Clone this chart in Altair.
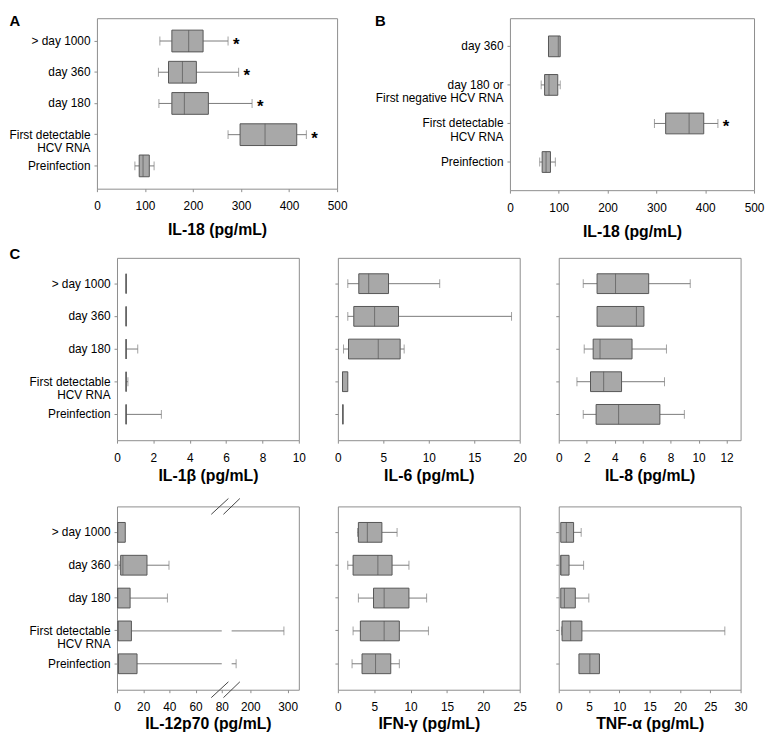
import altair as alt
import pandas as pd

FONT = "Liberation Sans"
BOX_FILL = "#a8a8a8"
BOX_STROKE = "#555555"
WHISK = "#7a7a7a"
FRAME = "#8c8c8c"

# category labels (top to bottom); "|" marks a line break
CATS_C = ["> day 1000", "day 360", "day 180", "First detectable|HCV RNA", "Preinfection"]
CATS_B = ["day 360", "day 180 or|First negative HCV RNA", "First detectable|HCV RNA", "Preinfection"]

# box statistics per category: (low whisker, Q1, median, Q3, high whisker); None = no whisker
IL18_A = [(131, 156, 191, 221, 273), (128, 149, 178, 207, 295), (129, 156, 182, 232, 323),
          (273, 298, 350, 416, 436), (79, 88, 96, 109, 119)]
IL18_A_SIG = [True, True, True, True, False]
IL18_B = [(None, 79, 99, 103, None), (64, 71, 80, 98, 103), (296, 319, 367, 397, 426),
          (61, 66, 74, 83, 93)]
IL18_B_SIG = [False, False, True, False]
IL1B = [(None, 0.5, 0.5, 0.5, None), (None, 0.5, 0.5, 0.5, None), (None, 0.5, 0.5, 0.5, 1.14),
        (None, 0.5, 0.5, 0.5, 0.6), (None, 0.5, 0.5, 0.5, 2.44)]
IL6 = [(1.09, 2.3, 3.39, 5.57, 11.2), (1.09, 1.75, 4.04, 6.67, 19.1), (0.62, 1.17, 4.44, 6.85, 7.29),
       (None, 0.51, 0.51, 1.09, None), (None, 0.55, 0.55, 0.55, None)]
IL8 = [(1.75, 2.74, 4.06, 6.43, 9.4), (None, 2.74, 5.55, 6.09, None), (1.82, 2.46, 2.95, 5.24, 7.7),
       (1.3, 2.27, 3.21, 4.49, 7.56), (1.75, 2.67, 4.28, 7.23, 8.98)]
IL12 = [(None, 0.5, 0.5, 6.3, None), (1.5, 2.8, 4.5, 22.9, 39.7), (None, 0.5, 0.5, 10, 38.5),
        (None, 0.75, 0.75, 11, 290), (None, 1, 1, 15.3, 162)]
IFNG = [(2.7, 2.82, 4.05, 6.05, 8.14), (1.36, 2.09, 5.5, 7.45, 9.77), (2.82, 4.9, 6.36, 9.77, 12.2),
        (2.09, 3.09, 6.36, 8.45, 12.45), (1.95, 3.32, 5.18, 7.27, 8.45)]
TNFA = [(None, 0.33, 1.25, 2.45, 3.7), (None, 0.33, 0.33, 1.7, 4.1), (None, 0.33, 0.93, 2.73, 4.96),
        (0.44, 0.55, 1.96, 3.82, 27.4), (None, 3.33, 5.13, 6.71, None)]

# axis ticks
TICKS_IL18 = [0, 100, 200, 300, 400, 500]
TICKS_IL1B = [0, 2, 4, 6, 8, 10]
TICKS_IL6 = [0, 5, 10, 15, 20]
TICKS_IL8 = [0, 2, 4, 6, 8, 10, 12]
TICKS_IL12 = [0, 20, 40, 60, 80, 200, 300]
TICKS_IFNG = [0, 5, 10, 15, 20, 25]
TICKS_TNFA = [0, 5, 10, 15, 20, 25, 30]

# broken IL-12p70 axis: domain pieces and the "//" break marks (data units)
IL12_DOMAIN = [0, 80, 150, 330]
IL12_BREAK = (80, 150)
BREAK_X1 = [72, 92]
BREAK_X2 = [127, 172]


def panel(stats, cats, xtitle, domain, ticks, width, height, box_h, sig=None,
          show_labels=True, letter=None, letter_pos=(0, 0), rng=None, brk=None,
          title_pad=4, pad_outer=0.25):
    box_rows, seg_rows, cap_rows, sig_rows = [], [], [], []
    for i, (c, (lo, q1, med, q3, hi)) in enumerate(zip(cats, stats)):
        box_rows.append({"cat": c, "q1": q1, "med": med, "q3": q3})
        for a, b, end in ((lo, q1, lo), (q3, hi, hi)):
            if end is None:
                continue
            pieces = [(a, b)]
            if brk and a < brk[0] and b > brk[1]:
                pieces = [(a, brk[0]), (brk[1], b)]
            for p in pieces:
                seg_rows.append({"cat": c, "a": p[0], "b": p[1]})
            cap_rows.append({"cat": c, "v": end})
        if sig and sig[i]:
            sig_rows.append({"cat": c, "v": hi})

    if rng is None:
        xs = alt.Scale(domain=domain, nice=False, zero=False)
    else:
        xs = alt.Scale(domain=domain, range=rng, nice=False, zero=False)
    xaxis = alt.Axis(values=ticks, title=xtitle, titlePadding=title_pad)

    def X(f):
        return alt.X(f"{f}:Q", scale=xs, axis=xaxis, title=xtitle)

    yargs = dict(labelExpr="split(datum.value, '|')")
    if not show_labels:
        yargs = dict(labels=False)
    if letter:
        yargs.update(title=letter, titleAngle=0, titleAlign="left", titleBaseline="top",
                     titleX=letter_pos[0], titleY=letter_pos[1], titleFontSize=15,
                     titleFontWeight="bold", titleFont=FONT, titleColor="black")
        ytitle = letter
    else:
        yargs.update(title=None)
        ytitle = None
    Y = alt.Y("cat:N", scale=alt.Scale(domain=cats, paddingInner=0, paddingOuter=pad_outer),
              axis=alt.Axis(**yargs), title=ytitle)

    layers = []
    if seg_rows:
        layers.append(alt.Chart(pd.DataFrame(seg_rows)).mark_rule(color=WHISK, strokeWidth=1)
                      .encode(x=X("a"), x2=alt.X2("b:Q"), y=Y))
        layers.append(alt.Chart(pd.DataFrame(cap_rows)).mark_tick(color=WHISK, size=9, thickness=1)
                      .encode(x=X("v"), y=Y))
    layers.append(alt.Chart(pd.DataFrame(box_rows))
                  .mark_bar(size=box_h, fill=BOX_FILL, stroke=BOX_STROKE, strokeWidth=1)
                  .encode(x=X("q1"), x2=alt.X2("q3:Q"), y=Y))
    layers.append(alt.Chart(pd.DataFrame(box_rows)).mark_tick(color=BOX_STROKE, size=box_h, thickness=1)
                  .encode(x=X("med"), y=Y))
    if sig_rows:
        layers.append(alt.Chart(pd.DataFrame(sig_rows))
                      .mark_text(text="*", fontSize=17, fontWeight="bold", align="left",
                                 baseline="middle", dx=5, dy=4, font=FONT, color="black")
                      .encode(x=X("v"), y=Y))
    if brk:
        sl = pd.DataFrame({"x1": BREAK_X1, "x2": BREAK_X2})
        for y1, y2 in ((8, -8), (height + 8, height - 8)):
            layers.append(alt.Chart(sl).mark_rule(color="#444444", strokeWidth=1)
                          .encode(x=X("x1"), x2=alt.X2("x2:Q"), y=alt.value(y1), y2=alt.value(y2)))

    return alt.layer(*layers).properties(width=width, height=height)


pA = panel(IL18_A, CATS_C, "IL-18 (pg/mL)", [0, 500], TICKS_IL18, 243, 172.5, 22,
           sig=IL18_A_SIG, letter="A", letter_pos=(-89, -5), title_pad=10, pad_outer=0.23)
pB = panel(IL18_B, CATS_B, "IL-18 (pg/mL)", [0, 500], TICKS_IL18, 247, 174, 21,
           sig=IL18_B_SIG, letter="B", letter_pos=(-137, -5), title_pad=10, pad_outer=0.23)
p1 = panel(IL1B, CATS_C, "IL-1β (pg/mL)", [0, 10], TICKS_IL1B, 184, 184.5, 20,
           letter="C", letter_pos=(-109.3, -11.5), pad_outer=0.29)
p6 = panel(IL6, CATS_C, "IL-6 (pg/mL)", [0, 20], TICKS_IL6, 184, 184.5, 20,
           show_labels=False, pad_outer=0.29)
p8 = panel(IL8, CATS_C, "IL-8 (pg/mL)", [0, 13], TICKS_IL8, 184, 184.5, 20,
           show_labels=False, pad_outer=0.29)
p12 = panel(IL12, CATS_C, "IL-12p70 (pg/mL)", IL12_DOMAIN, TICKS_IL12, 184, 185.5, 20,
            rng=[0, 106, 116, 184], brk=IL12_BREAK, title_pad=3, pad_outer=0.29)
pI = panel(IFNG, CATS_C, "IFN-γ (pg/mL)", [0, 25], TICKS_IFNG, 184, 185.5, 20,
           show_labels=False, title_pad=3, pad_outer=0.29)
pT = panel(TNFA, CATS_C, "TNF-α (pg/mL)", [0, 30], TICKS_TNFA, 184, 185.5, 20,
           show_labels=False, title_pad=3, pad_outer=0.29)

# invisible 1px spacer that shifts the panel-C block right of panel A's origin
spacer = (alt.Chart(pd.DataFrame({"v": [0]})).mark_point(size=1, opacity=0)
          .encode(x=alt.X("v:Q", axis=None), y=alt.Y("v:Q", axis=None))
          .properties(width=1, height=1, view=alt.ViewBackground(stroke="transparent")))

row1 = alt.hconcat(pA, pB, spacing=174.9, bounds="flush")
rowC1 = alt.hconcat(p1, p6, p8, spacing=39.5, bounds="flush")
rowC2 = alt.hconcat(p12, pI, pT, spacing=39.5, bounds="flush")
rowsC = alt.hconcat(spacer, alt.vconcat(rowC1, rowC2, spacing=13.5), spacing=19.3, bounds="flush")

chart = (
    alt.vconcat(row1, rowsC, spacing=6.5)
    .properties(padding=0, background="white")
    .configure_view(stroke=FRAME, strokeWidth=1)
    .configure_axis(grid=False, domain=False, labelFont=FONT, titleFont=FONT,
                    labelColor="black", titleColor="black", labelFontSize=12,
                    tickColor=FRAME, tickSize=3)
    .configure_axisX(labelPadding=9.5, labelFlush=False, labelOverlap=False,
                     titleFontSize=16, titleFontWeight="bold")
    .configure_axisY(labelPadding=4, labelLineHeight=13.5, labelLimit=300)
)

chart.save("out.html", embed_options={"renderer": "svg", "actions": False})
